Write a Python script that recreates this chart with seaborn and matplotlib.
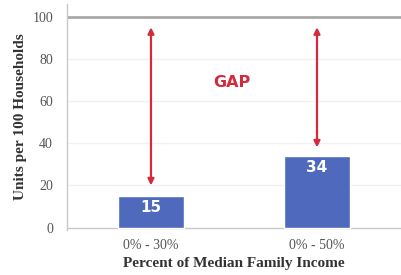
import matplotlib
matplotlib.use("Agg")
import matplotlib.pyplot as plt
import seaborn as sns
import pandas as pd

# data
categories = ['0% - 30%', '0% - 50%']
units = [15, 34]
gap_top = 100
arrow_low = [20, 38]
arrow_high = [95, 95]

df = pd.DataFrame({'income': categories, 'units': units})

sns.set_style('white')
plt.rcParams['font.family'] = ['Liberation Serif', 'DejaVu Serif']

fig = plt.figure(figsize=(4.01, 2.75), dpi=100)
ax = fig.add_axes([0.167, 0.165, 0.833, 0.82])

sns.barplot(data=df, x='income', y='units', color='#4f6abd', width=0.4,
            saturation=1, ax=ax, zorder=3)

ax.set_ylim(-1, 106)
ax.set_xlim(-0.506, 1.506)
ax.set_yticks([0, 20, 40, 60, 80, 100])

# faint grid, darker reference line at 100
for y in [20, 40, 60, 80]:
    ax.axhline(y, color='#f1f1f1', lw=1, zorder=0)
ax.axhline(gap_top, color='#a9a9a9', lw=2, zorder=1)
ax.axhline(0, color='#c8c8c8', lw=1, zorder=2)

# value labels inside bars
for i, v in enumerate(units):
    ax.text(i, v - 5.7, str(v), ha='center', va='center', color='white',
            fontsize=11, fontweight='bold', family=['DejaVu Sans'], zorder=4)

# gap arrows
for i in range(len(units)):
    ax.annotate('', xy=(i, arrow_high[i]), xytext=(i, arrow_low[i]),
                arrowprops=dict(arrowstyle='<|-|>', color='#d42a3c', lw=1.6,
                                mutation_scale=9, shrinkA=0, shrinkB=0),
                zorder=5)

ax.text(0.49, 69, 'GAP', ha='center', va='center', color='#d42a3c',
        fontsize=11.5, fontweight='bold', family=['DejaVu Sans'])

for side in ['top', 'right', 'bottom']:
    ax.spines[side].set_visible(False)
ax.spines['left'].set_color('#c8c8c8')
ax.spines['left'].set_linewidth(1)

ax.tick_params(axis='x', length=0, labelsize=10, labelcolor='#555555', pad=7)
ax.tick_params(axis='y', length=0, labelsize=10, labelcolor='#555555', pad=10)
ax.set_xlabel('Percent of Median Family Income', fontsize=11, fontweight='bold',
              color='#333333', labelpad=3)
ax.set_ylabel('Units per 100 Households', fontsize=11, fontweight='bold',
              color='#333333', labelpad=4)

fig.savefig('out.png', dpi=100)
